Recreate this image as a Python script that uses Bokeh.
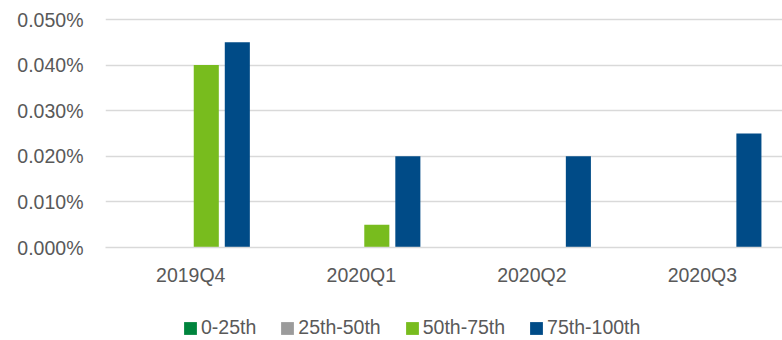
from bokeh.plotting import figure
from bokeh.models import (ColumnDataSource, Range1d, FixedTicker, NumeralTickFormatter,
                          Legend, LegendItem)
from bokeh.layouts import column
from bokeh.embed import file_html
from bokeh.resources import INLINE

categories = ["2019Q4", "2020Q1", "2020Q2", "2020Q3"]
series = ["0-25th", "25th-50th", "50th-75th", "75th-100th"]
v_0_25 = [0.0, 0.0, 0.0, 0.0]
v_25_50 = [0.0, 0.0, 0.0, 0.0]
v_50_75 = [0.00040, 0.00005, 0.0, 0.0]
v_75_100 = [0.00045, 0.00020, 0.00020, 0.00025]
colors = ["#00843D", "#9B9B9B", "#78BC1E", "#004B87"]

values = [v_0_25, v_25_50, v_50_75, v_75_100]
offsets = [-0.273, -0.091, 0.091, 0.273]
bar_w = 0.147

FONT = "Liberation Sans"
TXT = "#595959"
FS = "19.5px"

p = figure(width=782, height=300, output_backend="svg", toolbar_location=None,
           x_range=Range1d(0, 3.97), y_range=Range1d(0, 0.000504386),
           min_border_left=105, min_border_right=0, min_border_top=17,
           min_border_bottom=53)
p.outline_line_color = None
p.background_fill_color = "white"
p.border_fill_color = "white"

centers = [i + 0.5 for i in range(len(categories))]
for s, vals, off, col in zip(series, values, offsets, colors):
    src = ColumnDataSource(dict(x=[c + off for c in centers], top=vals))
    p.vbar(x="x", top="top", width=bar_w, bottom=0, source=src,
           fill_color=col, line_color=None)

p.xaxis.ticker = FixedTicker(ticks=centers)
p.xaxis.major_label_overrides = {c: lab for c, lab in zip(centers, categories)}
p.xaxis.axis_line_color = "#D9D9D9"
p.xaxis.axis_line_width = 1.5
p.xaxis.major_tick_line_color = None
p.xaxis.minor_tick_line_color = None
p.xaxis.major_tick_out = 0
p.xaxis.major_label_standoff = 16
p.xgrid.grid_line_color = None

p.yaxis.ticker = FixedTicker(ticks=[0, 0.0001, 0.0002, 0.0003, 0.0004, 0.0005])
p.yaxis.formatter = NumeralTickFormatter(format="0.000%")
p.yaxis.axis_line_color = None
p.yaxis.major_tick_line_color = None
p.yaxis.minor_tick_line_color = None
p.yaxis.major_tick_out = 0
p.yaxis.major_label_standoff = 22
p.ygrid.grid_line_color = "#D9D9D9"
p.ygrid.grid_line_width = 1.5

for ax in (p.xaxis, p.yaxis):
    ax.major_label_text_font = FONT
    ax.major_label_text_font_size = FS
    ax.major_label_text_color = TXT

# legend strip below the chart
lg = figure(width=782, height=40, output_backend="svg", toolbar_location=None,
            x_range=Range1d(0, 1), y_range=Range1d(0, 1),
            min_border_left=0, min_border_right=0, min_border_top=0,
            min_border_bottom=0, x_axis_location=None, y_axis_location=None)
lg.outline_line_color = None
lg.xgrid.grid_line_color = None
lg.ygrid.grid_line_color = None
items = []
for s, col in zip(series, colors):
    r = lg.vbar(x=[-5], top=[-5], bottom=[-6], width=0.1,
                fill_color=col, line_color=None)
    items.append(LegendItem(label=s, renderers=[r]))

legend = Legend(items=items, orientation="horizontal", location=(77, 1),
                glyph_width=16, glyph_height=16, label_standoff=3, spacing=23,
                padding=0, margin=0, border_line_color=None,
                background_fill_alpha=0,
                label_text_font=FONT, label_text_font_size=FS,
                label_text_color=TXT)
lg.add_layout(legend, "center")

open("out.html", "w").write(file_html(column(p, lg, spacing=0), INLINE))
